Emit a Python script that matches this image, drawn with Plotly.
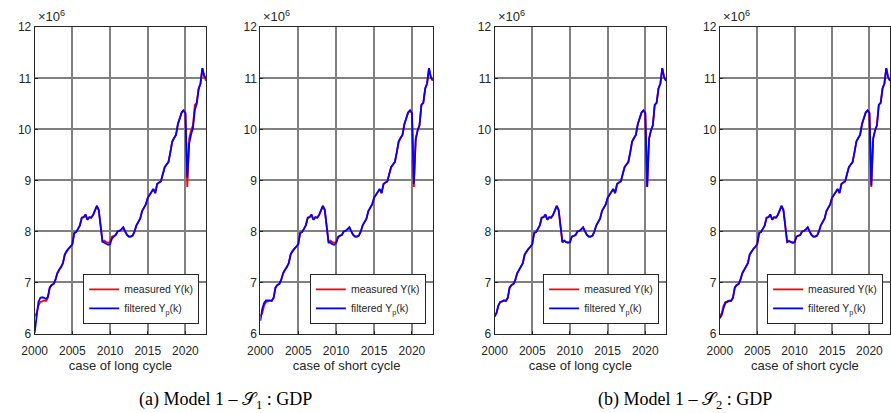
import plotly.graph_objects as go

# Quarterly GDP, 2000Q1 .. 2022Q4 (values in units of 10^6)
quarters = [2000 + q / 4 for q in range(92)]

measured = [
    6.34, 6.40, 6.55, 6.62,
    6.63, 6.65, 6.64, 6.70,
    6.90, 6.95, 6.97, 7.05,
    7.18, 7.25, 7.30, 7.38,
    7.55, 7.62, 7.66, 7.70,
    7.75, 7.97, 7.99, 8.05,
    8.12, 8.27, 8.28, 8.33,
    8.23, 8.28, 8.27, 8.32,
    8.40, 8.50, 8.42, 8.10,
    7.79, 7.82, 7.79, 7.78,
    7.79, 7.90, 7.92, 7.93,
    8.00, 8.01, 8.04, 8.08,
    8.00, 7.93, 7.90, 7.90,
    7.92, 8.00, 8.12, 8.20,
    8.25, 8.40, 8.48, 8.53,
    8.66, 8.72, 8.76, 8.83,
    8.75, 8.93, 8.96, 8.98,
    9.12, 9.26, 9.31, 9.36,
    9.55, 9.76, 9.83, 9.89,
    10.10, 10.23, 10.33, 10.37,
    10.32, 8.87, 9.82, 9.98,
    10.08, 10.48, 10.52, 10.80,
    10.90, 11.20, 11.02, 10.95,
]

# Filtered output Y_p(k) for each model / cycle case
filtered_s1_long = [
    6.02, 6.38, 6.62, 6.70,
    6.71, 6.70, 6.68, 6.72,
    6.90, 6.95, 6.97, 7.05,
    7.18, 7.25, 7.30, 7.38,
    7.55, 7.62, 7.66, 7.70,
    7.75, 7.97, 7.99, 8.05,
    8.12, 8.27, 8.28, 8.33,
    8.23, 8.28, 8.27, 8.32,
    8.40, 8.50, 8.42, 8.05,
    7.80, 7.78, 7.76, 7.74,
    7.75, 7.86, 7.90, 7.93,
    8.00, 8.01, 8.04, 8.08,
    8.00, 7.93, 7.90, 7.90,
    7.92, 8.00, 8.12, 8.20,
    8.25, 8.40, 8.48, 8.53,
    8.66, 8.72, 8.76, 8.83,
    8.75, 8.93, 8.96, 8.98,
    9.12, 9.26, 9.31, 9.36,
    9.55, 9.76, 9.83, 9.89,
    10.10, 10.23, 10.33, 10.37,
    10.32, 9.05, 9.72, 9.90,
    10.02, 10.38, 10.50, 10.78,
    10.90, 11.20, 11.05, 11.00,
]

filtered_s1_short = [
    6.25, 6.48, 6.60, 6.65,
    6.65, 6.65, 6.64, 6.70,
    6.90, 6.95, 6.97, 7.05,
    7.18, 7.25, 7.30, 7.38,
    7.55, 7.62, 7.66, 7.70,
    7.75, 7.97, 7.99, 8.05,
    8.12, 8.27, 8.28, 8.33,
    8.23, 8.28, 8.27, 8.32,
    8.40, 8.50, 8.42, 8.08,
    7.78, 7.78, 7.75, 7.74,
    7.77, 7.88, 7.92, 7.93,
    8.00, 8.01, 8.04, 8.08,
    8.00, 7.93, 7.90, 7.90,
    7.92, 8.00, 8.12, 8.20,
    8.25, 8.40, 8.48, 8.53,
    8.66, 8.72, 8.76, 8.83,
    8.75, 8.93, 8.96, 8.98,
    9.12, 9.26, 9.31, 9.36,
    9.55, 9.76, 9.83, 9.89,
    10.10, 10.23, 10.33, 10.37,
    10.32, 8.93, 9.80, 9.98,
    10.08, 10.48, 10.52, 10.80,
    10.90, 11.20, 11.02, 10.96,
]

filtered_s2_long = [
    6.33, 6.40, 6.55, 6.62,
    6.63, 6.65, 6.64, 6.70,
    6.90, 6.95, 6.97, 7.05,
    7.18, 7.25, 7.30, 7.38,
    7.55, 7.62, 7.66, 7.70,
    7.75, 7.97, 7.99, 8.05,
    8.12, 8.27, 8.28, 8.33,
    8.23, 8.28, 8.27, 8.32,
    8.40, 8.50, 8.42, 8.10,
    7.79, 7.82, 7.79, 7.78,
    7.79, 7.90, 7.92, 7.93,
    8.00, 8.01, 8.04, 8.08,
    8.00, 7.93, 7.90, 7.90,
    7.92, 8.00, 8.12, 8.20,
    8.25, 8.40, 8.48, 8.53,
    8.66, 8.72, 8.76, 8.83,
    8.75, 8.93, 8.96, 8.98,
    9.12, 9.26, 9.31, 9.36,
    9.55, 9.76, 9.83, 9.89,
    10.10, 10.23, 10.33, 10.37,
    10.32, 8.87, 9.82, 9.98,
    10.08, 10.48, 10.52, 10.80,
    10.90, 11.20, 11.02, 10.95,
]

filtered_s2_short = [
    6.30, 6.36, 6.50, 6.60,
    6.62, 6.64, 6.64, 6.70,
    6.90, 6.95, 6.97, 7.05,
    7.18, 7.25, 7.30, 7.38,
    7.55, 7.62, 7.66, 7.70,
    7.75, 7.97, 7.99, 8.05,
    8.12, 8.27, 8.28, 8.33,
    8.23, 8.28, 8.27, 8.32,
    8.40, 8.50, 8.42, 8.10,
    7.79, 7.81, 7.79, 7.78,
    7.79, 7.90, 7.92, 7.93,
    8.00, 8.01, 8.04, 8.08,
    8.00, 7.93, 7.90, 7.90,
    7.92, 8.00, 8.12, 8.20,
    8.25, 8.40, 8.48, 8.53,
    8.66, 8.72, 8.76, 8.83,
    8.75, 8.93, 8.96, 8.98,
    9.12, 9.26, 9.31, 9.36,
    9.55, 9.76, 9.83, 9.89,
    10.10, 10.23, 10.33, 10.37,
    10.32, 8.90, 9.82, 9.98,
    10.08, 10.48, 10.52, 10.80,
    10.90, 11.20, 11.02, 10.95,
]

x_ticks = [2000, 2005, 2010, 2015, 2020]
y_ticks = [6, 7, 8, 9, 10, 11, 12]
x_titles = ["case of long cycle", "case of short cycle",
            "case of long cycle", "case of short cycle"]
captions = ["(a) Model 1 – 𝒮<sub>1</sub> : GDP", "(b) Model 1 – 𝒮<sub>2</sub> : GDP"]
name_measured = "measured Y(k)"
name_filtered = "filtered Y<sub>p</sub>(k)"

W, H = 891, 413
panels_px = [(22, 196), (251, 426), (488.7, 662.7), (717.3, 890)]
top_px, bot_px = 21, 338
filtered_sets = [filtered_s1_long, filtered_s1_short, filtered_s2_long, filtered_s2_short]

SANS = "Liberation Sans, Arial, sans-serif"
INK = "#262626"

fig = go.Figure()
layout = dict(
    width=W, height=H,
    margin=dict(l=0, r=0, t=0, b=0),
    paper_bgcolor="white", plot_bgcolor="white",
    font=dict(family=SANS, size=12, color=INK),
    annotations=[],
)

for i, ((x0, x1), filt) in enumerate(zip(panels_px, filtered_sets)):
    n = "" if i == 0 else str(i + 1)
    leg = "legend" + n
    fig.add_trace(go.Scatter(
        x=quarters, y=[v * 1e6 for v in measured], mode="lines",
        name=name_measured, line=dict(color="#ff0000", width=1.8),
        xaxis="x" + n, yaxis="y" + n, legend=leg))
    fig.add_trace(go.Scatter(
        x=quarters, y=[v * 1e6 for v in filt], mode="lines",
        name=name_filtered, line=dict(color="#0000ff", width=1.8),
        xaxis="x" + n, yaxis="y" + n, legend=leg))

    axis_common = dict(
        showline=True, linecolor=INK, linewidth=1, mirror=True,
        showgrid=True, gridcolor="#808080", gridwidth=1.5,
        ticks="inside", ticklen=3, tickcolor=INK,
        zeroline=False, tickfont=dict(family=SANS, size=12, color=INK),
    )
    layout["xaxis" + n] = dict(
        axis_common, domain=[x0 / W, x1 / W], range=[2000, 2022.75],
        tickvals=x_ticks, anchor="y" + n, ticklabelstandoff=6,
        title=dict(text=x_titles[i], font=dict(family=SANS, size=13, color=INK), standoff=3),
    )
    layout["yaxis" + n] = dict(
        axis_common, domain=[1 - bot_px / H, 1 - top_px / H], range=[6e6, 12e6],
        tickvals=[v * 1e6 for v in y_ticks], ticktext=[str(v) for v in y_ticks],
        anchor="x" + n,
    )
    layout[leg] = dict(
        x=(x1 - 7) / W, y=1 - (bot_px - 10) / H, xanchor="right", yanchor="bottom",
        xref="paper", yref="paper",
        bgcolor="white", bordercolor=INK, borderwidth=1,
        font=dict(family=SANS, size=10.5, color=INK),
        tracegroupgap=0, itemwidth=30,
    )
    layout["annotations"].append(dict(
        x=(x0 + 1) / W, y=1 - 20 / H, xref="paper", yref="paper",
        xanchor="left", yanchor="bottom", showarrow=False,
        text="×10<sup>6</sup>", font=dict(family=SANS, size=13, color=INK),
    ))

for cx, cap in zip([216, 682], captions):
    layout["annotations"].append(dict(
        x=cx / W, y=1 - 407 / H, xref="paper", yref="paper",
        xanchor="center", yanchor="middle", showarrow=False,
        text=cap, font=dict(family="Liberation Serif, serif", size=18, color="black"),
    ))

fig.update_layout(**layout)
fig.write_html("out.html")
